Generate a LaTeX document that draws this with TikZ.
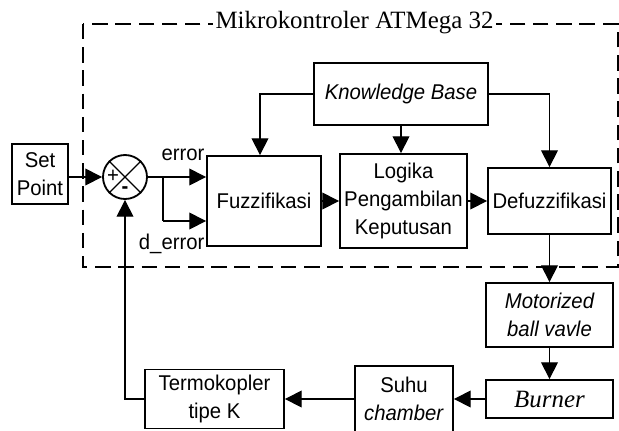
\documentclass[tikz,border=0pt]{standalone}
\usepackage{fontspec}
\setmainfont{Liberation Sans}[FakeStretch=0.95]
\newfontfamily\timesfont{Liberation Serif}
\usetikzlibrary{arrows.meta}
\newcommand\hurufblok{\fontsize{15.2}{20}\selectfont}
\newcommand\hurufserif{\timesfont\fontsize{17.7}{20}\selectfont}

\begin{document}
\begin{tikzpicture}[x=0.025cm, y=-0.025cm, font=\hurufblok,
    blok/.style={draw, line width=1.3pt, align=center, inner sep=1pt},
    ukuran/.style 2 args={minimum width=#1*0.025cm, minimum height=#2*0.025cm},
    panah/.style={line width=0.9pt, -{Triangle[length=0.42cm,width=0.42cm]}},
    garis/.style={line width=0.9pt}]
  \useasboundingbox (0,0) rectangle (619,430);

  % mikrokontroler
  \draw[line width=2.1pt, dash pattern=on 11pt off 5.5pt] (83,24) rectangle (618,267);
  \node[fill=white, inner sep=2pt, font=\hurufserif] (mcu) at (354.5,23) {Mikrokontroler ATMega 32};

  \node[blok, ukuran={56}{60}] (sp) at (40,174) {Set\\Point};
  \node[draw, circle, line width=1.3pt, minimum size=44*0.025cm, inner sep=0pt] (sum) at (125,177) {};
  \draw[garis] (sum.north west) -- (sum.south east) (sum.north east) -- (sum.south west);
  \node[inner sep=0pt] (plus) at (113,176) {+};
  \node[inner sep=0pt] (minus) at (125,190) {\textbf{-}};

  \node[blok, ukuran={114}{90}] (fuzz) at (264,201) {Fuzzifikasi};
  \node[blok, ukuran={127}{94}] (logika) at (403.5,201) {Logika\\Pengambilan\\Keputusan};
  \node[blok, ukuran={123}{66}] (defuzz) at (549.5,201) {Defuzzifikasi};
  \node[blok, ukuran={174}{62}, font=\hurufblok\itshape] (kb) at (401,94) {Knowledge Base};

  \node[blok, ukuran={127}{64}, font=\hurufblok\itshape] (motor) at (549.5,315) {Motorized\\ball vavle};
  \node[blok, ukuran={127}{38}, font=\hurufserif\itshape] (burner) at (549.5,399) {Burner};
  \node[blok, ukuran={98}{66}] (suhu) at (404,399) {Suhu\\\textit{chamber}};
  \node[blok, ukuran={139}{59}] (termo) at (214.5,399) {Termokopler\\tipe K};

  \node[anchor=east, inner sep=1pt] (err) at (fuzz.north west) {error};
  \node[anchor=east, inner sep=1pt] (derr) at ([yshift=0.075cm]fuzz.south west) {d\_error};

  % sinyal
  \coordinate (cab) at (163,177);
  \coordinate (cab2) at (163,221);
  \draw[panah] (sp.east |- sum) -- (sum);
  \draw[panah] (sum) -- (sum -| fuzz.west);
  \draw[garis] (cab) -- (cab2);
  \draw[panah] (cab2) -- (cab2 -| fuzz.west);
  \draw[panah] (kb.west) -| ([xshift=-0.1cm]fuzz.north);
  \draw[panah] (kb.east) -| (defuzz.north);
  \draw[panah] (kb.south) -- (kb.south |- logika.north);
  \draw[panah] (fuzz) -- (logika);
  \draw[panah] (logika) -- (defuzz);
  \draw[panah] (defuzz) -- (motor);
  \draw[panah] (motor) -- (burner);
  \draw[panah] (burner) -- (suhu);
  \draw[panah] (suhu) -- (termo);
  \draw[panah] (termo.west) -| (sum.south);
\end{tikzpicture}
\end{document}
